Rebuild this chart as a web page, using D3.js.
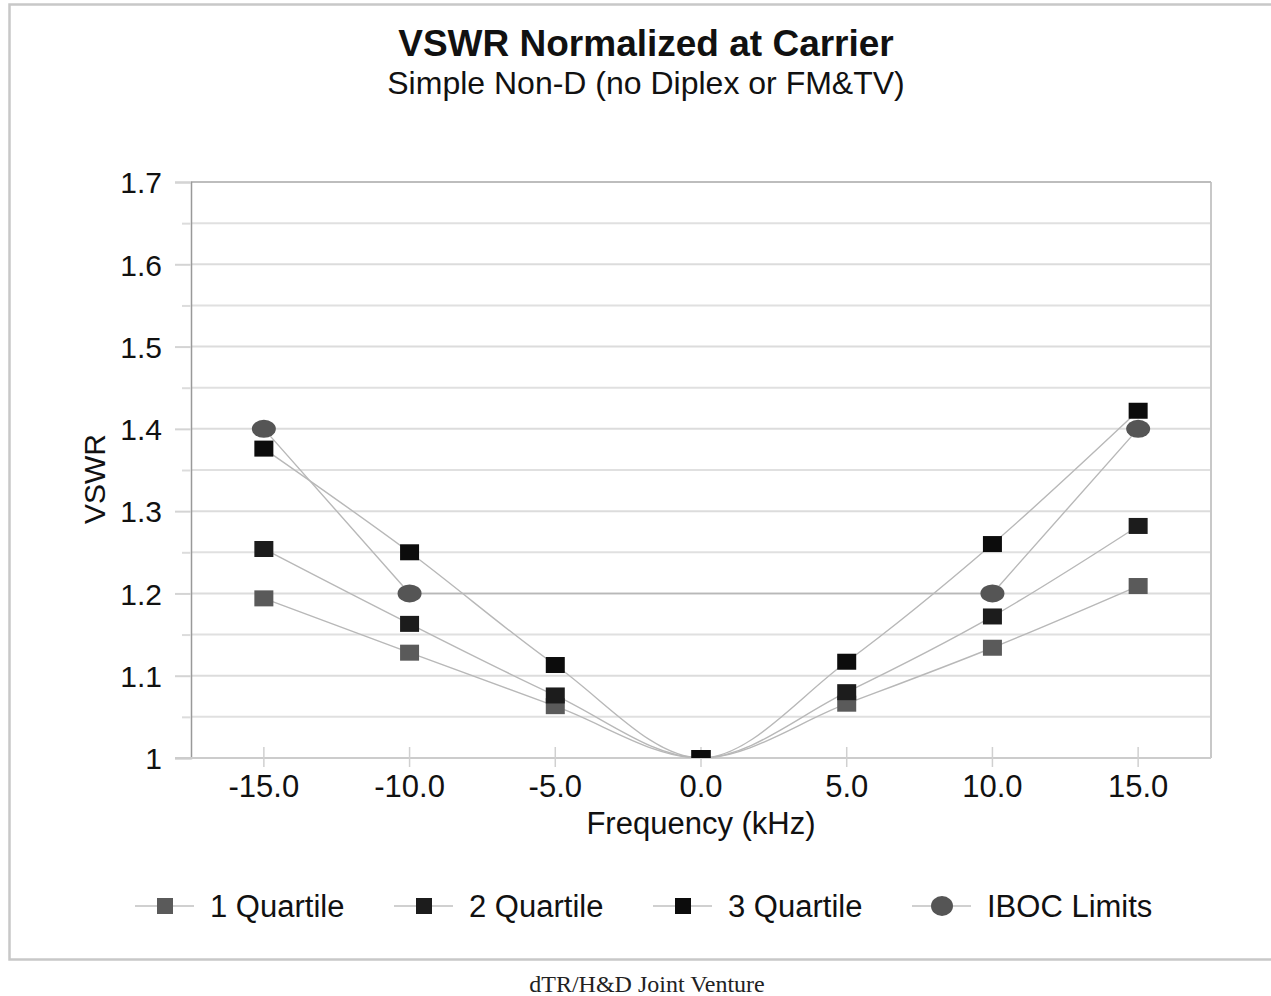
<!DOCTYPE html>
<html><head><meta charset="utf-8">
<script src="https://cdn.jsdelivr.net/npm/d3@7"></script>
<style>
html,body{margin:0;padding:0;background:#fff;}
svg{display:block;font-family:"Liberation Sans",Arial,sans-serif;}
</style></head>
<body>
<svg id="chart" width="1271" height="996"></svg>
<script>
// ---- data ----
const categories = ["-15.0","-10.0","-5.0","0.0","5.0","10.0","15.0"];
const quartile1 = [1.194, 1.128, 1.063, 1.0, 1.066, 1.134, 1.209];
const quartile2 = [1.254, 1.163, 1.076, 1.0, 1.080, 1.172, 1.282];
const quartile3 = [1.376, 1.250, 1.113, 1.0, 1.117, 1.260, 1.422];
const ibocLimits = [1.40, 1.20, null, null, null, 1.20, 1.40];
const seriesNames = ["1 Quartile","2 Quartile","3 Quartile","IBOC Limits"];
const yTicks = [1.0,1.1,1.2,1.3,1.4,1.5,1.6,1.7];
const yTickLabels = ["1","1.1","1.2","1.3","1.4","1.5","1.6","1.7"];
const yMinorTicks = [1.05,1.15,1.25,1.35,1.45,1.55,1.65];
const titleText = "VSWR Normalized at Carrier";
const subtitleText = "Simple Non-D (no Diplex or FM&TV)";
const xTitle = "Frequency (kHz)";
const yTitle = "VSWR";
const footerText = "dTR/H&D Joint Venture";

// ---- layout ----
const svg = d3.select("#chart");
const L = 191, R = 1211, T = 182, B = 758;
const x = d3.scaleBand().domain(categories).range([L, R]).padding(0);
const cx = c => x(c) + x.bandwidth()/2;
const y = d3.scaleLinear().domain([1, 1.7]).range([B, T]);

// outer frame
svg.append("rect").attr("x",9.5).attr("y",4.5).attr("width",1290).attr("height",955)
  .attr("fill","none").attr("stroke","#c8c8c8").attr("stroke-width",2.5);

// titles
svg.append("text").attr("x",646).attr("y",56).attr("text-anchor","middle")
  .attr("font-size",37).attr("font-weight","bold").attr("fill","#111").text(titleText);
svg.append("text").attr("x",646).attr("y",94).attr("text-anchor","middle")
  .attr("font-size",32).attr("fill","#111").text(subtitleText);

// gridlines
const grid = svg.append("g");
grid.selectAll("line.minor").data(yMinorTicks).join("line")
  .attr("x1",L).attr("x2",R).attr("y1",d=>y(d)).attr("y2",d=>y(d))
  .attr("stroke","#e0e0e0").attr("stroke-width",2);
grid.selectAll("line.major").data(yTicks).join("line")
  .attr("x1",L).attr("x2",R).attr("y1",d=>y(d)).attr("y2",d=>y(d))
  .attr("stroke","#dcdcdc").attr("stroke-width",2);
// right / top border
svg.append("line").attr("x1",R).attr("x2",R).attr("y1",T).attr("y2",B)
  .attr("stroke","#c8c8c8").attr("stroke-width",2);
svg.append("line").attr("x1",L).attr("x2",R).attr("y1",T).attr("y2",T)
  .attr("stroke","#bdbdbd").attr("stroke-width",2);

// y axis
const yAxis = d3.axisLeft(y).tickValues(yTicks).tickFormat((d,i)=>yTickLabels[i])
  .tickSize(16).tickPadding(13);
const ga = svg.append("g").attr("transform",`translate(${L},0)`).call(yAxis);
ga.select(".domain").attr("stroke","#999").attr("stroke-width",1.5);
ga.selectAll(".tick line").attr("stroke","#d4d4d4").attr("stroke-width",2);
ga.selectAll(".tick text").attr("font-size",30).attr("fill","#111")
  .attr("font-family","Liberation Sans, Arial, sans-serif").attr("dy","0.36em");
const gm = svg.append("g").attr("transform",`translate(${L},0)`)
  .call(d3.axisLeft(y).tickValues(yMinorTicks).tickFormat("").tickSize(9));
gm.select(".domain").remove();
gm.selectAll(".tick line").attr("stroke","#dcdcdc").attr("stroke-width",2);

// x axis
const xAxis = d3.axisBottom(x).tickSize(0).tickPadding(0);
const gx = svg.append("g").attr("transform",`translate(0,${B})`).call(xAxis);
gx.select(".domain").attr("d",`M${L-16},0H${R}`).attr("stroke","#cccccc").attr("stroke-width",2);
gx.selectAll(".tick text").attr("font-size",31).attr("fill","#111")
  .attr("font-family","Liberation Sans, Arial, sans-serif").attr("dy",null).attr("y",39);
svg.append("g").selectAll("line").data(categories).join("line")
  .attr("x1",cx).attr("x2",cx).attr("y1",B-11).attr("y2",B+9)
  .attr("stroke","#d0d0d0").attr("stroke-width",1.5);

// axis titles
svg.append("text").attr("x",701).attr("y",834).attr("text-anchor","middle")
  .attr("font-size",31).attr("fill","#111").text(xTitle);
svg.append("text").attr("transform","translate(105,479) rotate(-90)").attr("text-anchor","middle")
  .attr("font-size",30).attr("fill","#111").text(yTitle);

// series
const series = [
  {name:seriesNames[0], values:quartile1, shape:"rect", fill:"#5a5a5a", w:19, h:16, curve:d3.curveMonotoneX},
  {name:seriesNames[1], values:quartile2, shape:"rect", fill:"#1c1c1c", w:19, h:16, curve:d3.curveMonotoneX},
  {name:seriesNames[2], values:quartile3, shape:"rect", fill:"#0c0c0c", w:19, h:16, curve:d3.curveMonotoneX},
  {name:seriesNames[3], values:ibocLimits, shape:"ellipse", fill:"#555555", w:24, h:18, curve:d3.curveLinear}
];
svg.append("clipPath").attr("id","plotclip").append("rect")
  .attr("x",L).attr("y",T).attr("width",R-L).attr("height",B-T);
const plot = svg.append("g").attr("clip-path","url(#plotclip)");
series.forEach(s=>{
  const pts = categories.map((c,i)=>({c, v:s.values[i]})).filter(d=>d.v!==null);
  const line = d3.line().x(d=>cx(d.c)).y(d=>y(d.v)).curve(s.curve);
  plot.append("path").datum(pts).attr("d",line).attr("fill","none")
    .attr("stroke","#b8b8b8").attr("stroke-width",1.4);
});
series.forEach(s=>{
  const pts = categories.map((c,i)=>({c, v:s.values[i]})).filter(d=>d.v!==null);
  if(s.shape==="rect"){
    plot.selectAll(null).data(pts).join("rect")
      .attr("x",d=>cx(d.c)-s.w/2).attr("y",d=>y(d.v)-s.h/2)
      .attr("width",s.w).attr("height",s.h).attr("fill",s.fill);
  } else {
    plot.selectAll(null).data(pts).join("ellipse")
      .attr("cx",d=>cx(d.c)).attr("cy",d=>y(d.v)).attr("rx",s.w/2).attr("ry",s.h/2).attr("fill",s.fill);
  }
});

// legend
const legendX = [165, 424, 683, 942];
const legY = 906;
series.forEach((s,i)=>{
  const g = svg.append("g").attr("transform",`translate(${legendX[i]},${legY})`);
  g.append("line").attr("x1",-30).attr("x2",29).attr("y1",0).attr("y2",0)
    .attr("stroke","#c0c0c0").attr("stroke-width",1.5);
  if(s.shape==="rect") g.append("rect").attr("x",-8).attr("y",-8).attr("width",16).attr("height",16).attr("fill",s.fill);
  else g.append("ellipse").attr("rx",11).attr("ry",10).attr("fill",s.fill);
  g.append("text").attr("x",45).attr("y",11).attr("font-size",31).attr("fill","#111").text(s.name);
});

// footer
svg.append("text").attr("x",647).attr("y",992).attr("text-anchor","middle")
  .attr("font-family","Liberation Serif, Times New Roman, serif").attr("font-size",24)
  .attr("fill","#222").text(footerText);
</script>
</body></html>
